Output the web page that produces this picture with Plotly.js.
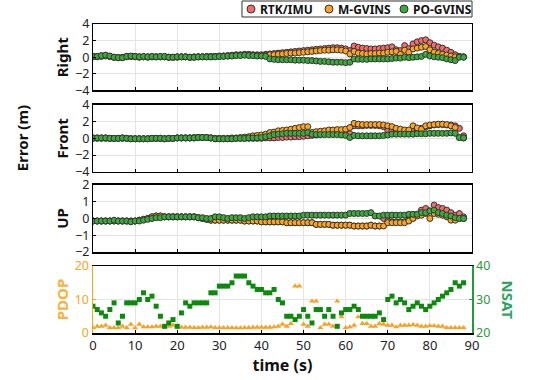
<!DOCTYPE html>
<html><head><meta charset="utf-8">
<script src="https://cdn.plot.ly/plotly-3.0.1.min.js"></script>
<style>html,body{margin:0;padding:0;background:#fff}#chart{width:538px;height:380px}</style>
</head><body><div id="chart"></div>
<script>
const time = [0,1,2,3,4,5,6,7,8,9,10,11,12,13,14,15,16,17,18,19,20,21,22,23,24,25,26,27,28,29,30,31,32,33,34,35,36,37,38,39,40,41,42,43,44,45,46,47,48,49,50,51,52,53,54,55,56,57,58,59,60,61,62,63,64,65,66,67,68,69,70,71,72,73,74,75,76,77,78,79,80,81,82,83,84,85,86,87,88];

// Right error (m)
const rtkRight = [0.1,0.1,0.15,0.2,0.1,0.0,-0.05,0.0,0.1,0.1, 0.1,0.05,0.05,0.05,0.05,0.05,0.05,0.05,0.0,0.0, 0.05,0.05,0.05,0.0,0.05,0.05,0.05,0.1,0.1,0.1, 0.15,0.15,0.2,0.25,0.3,0.3,0.35,0.35,0.3,0.3, 0.3,0.35,0.4,0.45,0.5,0.55,0.6,0.65,0.7,0.75, 0.8,0.85,0.9,0.95,1.0,1.05,1.1,1.15,1.15,1.1, 1.0,0.8,1.35,1.2,1.1,1.05,1.0,1.0,1.05,1.1, 1.15,1.25,0.9,0.8,1.4,1.05,1.6,1.85,2.0,2.1, 1.75,1.45,1.25,1.1,0.85,0.6,0.3,0.1,0.05];
const mgvRight = [0.05,0.05,0.1,0.15,0.1,0.0,-0.05,-0.05,0.05,0.1, 0.05,0.0,0.05,0.0,0.05,0.05,0.05,0.05,0.0,0.0, 0.0,0.05,0.05,0.0,0.0,0.05,0.05,0.05,0.05,0.1, 0.1,0.15,0.15,0.2,0.25,0.25,0.3,0.3,0.25,0.2, 0.2,0.25,0.3,0.3,0.35,0.4,0.45,0.5,0.5,0.55, 0.6,0.65,0.7,0.75,0.8,0.85,0.85,0.9,0.9,0.85, 0.75,0.4,0.7,0.5,0.45,0.4,0.45,0.45,0.5,0.5, 0.6,0.65,0.7,0.35,0.85,0.6,1.0,1.1,1.2,1.3, 0.9,0.6,0.45,0.35,0.25,0.15,0.05,0.1,0.05];
const pogRight = [0.1,0.1,0.2,0.25,0.15,0.0,-0.05,-0.05,0.1,0.15, 0.1,0.05,0.1,0.05,0.1,0.05,0.1,0.1,0.0,0.0, 0.05,0.05,0.05,0.0,0.0,0.05,0.05,0.05,0.05,0.05, 0.1,0.1,0.15,0.15,0.2,0.2,0.25,0.2,0.2,0.15, 0.15,0.1,-0.2,-0.25,-0.3,-0.3,-0.3,-0.3,-0.35,-0.35, -0.35,-0.4,-0.4,-0.45,-0.5,-0.5,-0.55,-0.6,-0.6,-0.6, -0.65,-0.6,-0.2,-0.25,-0.25,-0.25,-0.2,-0.2,-0.2,-0.2, -0.2,-0.15,-0.1,-0.1,0.0,-0.05,0.0,0.05,0.1,0.35, 0.15,0.05,0.0,-0.05,-0.2,-0.3,-0.4,0.0,0.0];

// Front error (m)
const rtkFront = [0.0,0.0,0.0,0.0,0.0,0.0,0.0,0.0,0.0,-0.05, -0.05,-0.05,-0.05,-0.05,0.0,0.0,0.0,-0.05,0.0,0.0, 0.05,0.05,0.05,0.05,0.05,0.1,0.1,0.1,0.05,-0.05, -0.05,-0.05,-0.05,-0.05,0.0,0.0,0.0,0.0,0.0,0.0, 0.0,0.05,0.05,0.05,0.1,0.1,0.15,0.15,0.2,0.2, 0.25,0.3,0.35,0.4,0.45,0.5,0.55,0.6,0.65,0.7, 0.75,0.55,1.5,1.5,1.5,1.55,1.55,1.55,1.5,1.4, 0.95,0.9,0.85,0.8,0.8,0.8,0.9,1.0,1.2,1.35, 1.5,1.6,1.65,1.65,1.6,1.6,1.5,1.2,0.3];
const mgvFront = [0.05,0.05,0.05,0.05,0.0,0.0,0.0,0.05,0.0,-0.05, -0.05,-0.05,-0.05,-0.05,0.0,0.0,0.0,-0.05,0.0,0.0, 0.05,0.05,0.05,0.05,0.1,0.1,0.1,0.1,0.05,0.0, 0.0,0.0,0.0,0.05,0.05,0.1,0.15,0.2,0.3,0.35, 0.4,0.5,0.7,0.75,0.9,0.95,1.0,1.1,1.2,1.3, 1.4,1.4,0.7,0.8,0.85,0.9,1.0,1.0,1.05,1.05, 1.1,1.3,1.8,1.7,1.65,1.65,1.65,1.65,1.65,1.6, 1.5,1.4,1.2,1.1,1.0,1.0,1.5,1.25,1.1,1.5, 1.6,1.65,1.7,1.7,1.65,1.5,1.3,0.1,0.05];
const pogFront = [0.05,0.05,0.05,0.05,0.0,0.0,0.0,0.05,0.0,-0.05, -0.05,-0.05,-0.05,-0.05,0.0,0.0,0.0,-0.05,0.0,0.0, 0.05,0.05,0.05,0.05,0.05,0.1,0.1,0.1,0.05,-0.05, -0.05,-0.05,-0.05,-0.05,0.0,0.0,0.0,0.05,0.05,0.05, 0.1,0.2,0.3,0.45,0.5,0.55,0.6,0.6,0.6,0.6, 0.6,0.7,0.5,0.45,0.45,0.45,0.45,0.45,0.45,0.4, 0.35,0.1,0.35,0.3,0.3,0.3,0.3,0.3,0.3,0.35, 0.4,0.5,0.5,0.5,0.5,0.5,0.5,0.55,0.55,0.55, 0.6,0.6,0.6,0.6,0.6,0.65,0.6,0.1,0.05];

// UP error (m)
const rtkUp = [-0.15,-0.15,-0.15,-0.15,-0.15,-0.15,-0.15,-0.15,-0.15,-0.15, -0.15,-0.1,-0.05,0.0,0.1,0.15,0.15,0.1,0.1,0.1, 0.1,0.1,0.1,0.1,0.1,0.05,0.0,-0.05,-0.1,-0.1, -0.1,-0.1,-0.1,-0.1,-0.1,-0.1,-0.15,-0.15,-0.15,-0.15, -0.2,-0.2,-0.2,-0.2,-0.2,-0.2,-0.25,-0.25,-0.25,-0.25, -0.25,-0.25,-0.25,-0.35,-0.35,-0.35,-0.35,-0.4,-0.4,-0.4, -0.4,-0.4,-0.45,-0.45,-0.45,-0.45,-0.4,-0.45,-0.45,0.0, -0.15,-0.2,-0.2,-0.2,-0.2,-0.1,0.05,0.25,0.5,0.6, 0.45,0.8,0.65,0.6,0.5,0.35,0.2,0.3,0.1];
const mgvUp = [-0.15,-0.15,-0.15,-0.15,-0.15,-0.15,-0.15,-0.15,-0.15,-0.15, -0.15,-0.1,-0.05,0.0,0.1,0.15,0.15,0.1,0.1,0.1, 0.1,0.1,0.1,0.1,0.1,0.05,0.0,-0.05,-0.1,-0.1, -0.1,-0.1,-0.1,-0.1,-0.1,-0.1,-0.15,-0.15,-0.15,-0.15, -0.2,-0.2,-0.2,-0.2,-0.2,-0.2,-0.25,-0.25,-0.25,-0.25, -0.25,-0.25,-0.25,-0.35,-0.35,-0.35,-0.35,-0.4,-0.4,-0.4, -0.4,-0.4,-0.45,-0.45,-0.45,-0.45,-0.4,-0.45,-0.45,-0.45, -0.25,-0.25,-0.25,-0.25,-0.25,-0.15,0.0,0.15,0.2,0.3, 0.0,0.3,0.25,0.2,0.1,-0.1,-0.1,0.0,0.0];
const pogUp = [-0.15,-0.15,-0.15,-0.15,-0.15,-0.1,-0.15,-0.15,-0.15,-0.2, -0.15,-0.15,-0.1,-0.05,0.0,0.05,0.05,0.1,0.1,0.1, 0.1,0.1,0.1,0.1,0.1,0.05,0.05,0.0,0.0,0.1, 0.1,0.05,0.0,0.05,0.05,0.05,0.0,0.05,0.1,0.1, 0.1,0.1,0.15,0.15,0.15,0.15,0.15,0.15,0.15,0.15, 0.2,0.2,0.2,0.2,0.2,0.2,0.2,0.2,0.2,0.2, 0.2,0.3,0.3,0.3,0.3,0.3,0.35,0.15,0.15,0.2, 0.2,0.2,0.2,0.2,0.2,0.25,0.25,0.25,0.35,0.35, 0.45,0.5,0.35,0.3,0.2,0.15,0.05,0.0,0.0];

// Satellite geometry
const pdop = [1.6,2,2,2.3,1.6,1.6,1.6,2,1.6,2.6, 1.5,2.6,1.8,1.8,1.8,2,2,1.8,2,2.3, 1.8,1.7,1.7,1.7,1.6,1.6,1.7,1.7,1.8,1.6, 1.6,1.6,1.6,1.6,1.5,1.5,1.6,1.6,1.7,1.7, 1.7,1.7,1.7,1.8,2,2.6,2,2.8,14,14, 2.6,2.0,9.5,9.5,1.6,2.6,2.6,2,9.5,4.8, 1.6,1.8,2.3,4.8,2.8,2.8,2,2,2.8,2.6, 2.3,2.3,1.8,2.3,2.3,2.3,2.5,2.3,2,2, 2.2,2.2,2,2,1.6,1.6,1.6,1.6,1.6];
const nsat = [28,27,26,25,27,29,23,25,29,29, 29,30,32,30,31,28,25,22,23,24, 22,26,29,28,29,29,29,29,32,32, 34,34,34,35,37,37,37,35,34,33, 33,32,32,33,30,29,25,25,24,25, 27,25,23,27,27,25,27,25,22,26, 27,27,28,27,25,25,25,25,26,24, 30,31,29,30,29,27,28,29,28,27, 28,29,30,31,32,33,35,34,35];

const seriesNames = ['RTK/IMU','M-GVINS','PO-GVINS'];
const seriesColors = ['#F36B6B','#FFA41C','#3DAA3D'];
const panels = [[rtkRight,mgvRight,pogRight],[rtkFront,mgvFront,pogFront],[rtkUp,mgvUp,pogUp]];

const traces = [];
panels.forEach((set, p) => {
  set.forEach((vals, s) => {
    traces.push({
      x: time, y: vals, type: 'scatter', mode: 'markers',
      name: seriesNames[s], showlegend: false,
      xaxis: p === 0 ? 'x' : 'x' + (p + 1), yaxis: p === 0 ? 'y' : 'y' + (p + 1),
      marker: {symbol: 'circle', size: 6, color: seriesColors[s], line: {width: 1, color: '#333'}}
    });
  });
});
traces.push({x: time, y: pdop, type: 'scatter', mode: 'markers', showlegend: false, name: 'PDOP',
  xaxis: 'x4', yaxis: 'y4', marker: {symbol: 'triangle-up', size: 5.5, color: '#FF9F1C'}});
traces.push({x: time, y: nsat, type: 'scatter', mode: 'markers', showlegend: false, name: 'NSAT',
  xaxis: 'x4', yaxis: 'y5', marker: {symbol: 'square', size: 5, color: '#0B8A0B'}});

const tf = {family: 'Noto Sans, Open Sans, sans-serif', size: 12.5, color: '#222'};
function xax(anchor, labels) {
  return {domain: [0, 1], range: [0, 90], anchor: anchor, matches: anchor === 'y' ? undefined : 'x',
    showgrid: true, gridcolor: '#e4e4e4', gridwidth: 1, zeroline: false,
    showline: true, linecolor: '#000', linewidth: 1.5, mirror: true,
    ticks: 'inside', ticklen: 3, tickcolor: '#000', dtick: 10, tick0: 0,
    showticklabels: labels, tickfont: Object.assign({}, tf, {size: 13})};
}
function yax(dom, range, dt, title) {
  return {domain: dom, range: range, dtick: dt, showgrid: true, gridcolor: '#e4e4e4', zeroline: false,
    showline: true, linecolor: '#000', linewidth: 1, mirror: true, ticks: 'inside', ticklen: 3,
    tickcolor: '#000', tickfont: tf,
    title: {text: '<b>' + title + '</b>', font: {family: 'Noto Sans, sans-serif', size: 15, color: '#111'}, standoff: 2}};
}

// Legend box (drawn in paper space, top right above the first panel)
const legX = [0.4169, 0.6227, 0.8206];
const legY = 1.0485;
const shapes = [{type: 'rect', xref: 'paper', yref: 'paper', x0: 0.3931, x1: 1.0, y0: 1.0227, y1: 1.0744,
  line: {color: '#333', width: 1}, fillcolor: '#fff', layer: 'above'}];
const annotations = [];
seriesNames.forEach((nm, i) => {
  shapes.push({type: 'circle', xref: 'paper', yref: 'paper', xsizemode: 'pixel', ysizemode: 'pixel',
    xanchor: legX[i], yanchor: legY, x0: -4, x1: 4, y0: -4, y1: 4,
    fillcolor: seriesColors[i], line: {color: '#333', width: 1}, layer: 'above'});
  annotations.push({text: '<b>' + nm + '</b>', xref: 'paper', yref: 'paper', x: legX[i] + 0.019, y: legY,
    xanchor: 'left', yanchor: 'middle', showarrow: false,
    font: {family: 'Noto Sans, sans-serif', size: 12, color: '#111'}});
});
annotations.push({text: '<b>Error (m)</b>', xref: 'paper', yref: 'paper', x: -0.187, y: 0.631, xanchor: 'center', yanchor: 'middle',
  showarrow: false, textangle: -90, font: {family: 'Noto Sans, sans-serif', size: 15, color: '#111'}});
annotations.push({text: '<b>NSAT</b>', xref: 'paper', yref: 'paper', x: 1.096, y: 0.107, xanchor: 'center', yanchor: 'middle',
  showarrow: false, textangle: 90, font: {family: 'Noto Sans, sans-serif', size: 15, color: '#2DA562'}});

const layout = {
  width: 538, height: 380,
  margin: {l: 93, r: 66, t: 24, b: 47, autoexpand: false},
  paper_bgcolor: '#fff', plot_bgcolor: '#fff',
  showlegend: false,
  xaxis: xax('y', false),
  xaxis2: xax('y2', false),
  xaxis3: xax('y3', false),
  xaxis4: Object.assign(xax('y4', true), {title: {text: '<b>time (s)</b>', font: {family: 'Noto Sans, sans-serif', size: 16, color: '#111'}, standoff: 4}}),
  yaxis: yax([0.7848, 1.0], [-4, 4], 2, 'Right'),
  yaxis2: yax([0.522, 0.7379], [-4, 4], 2, 'Front'),
  yaxis3: yax([0.2621, 0.479], [-2, 2], 1, 'UP'),
  yaxis4: {domain: [0, 0.2168], range: [0, 20], dtick: 10, showgrid: true, gridcolor: '#e4e4e4', zeroline: false,
    showline: true, linecolor: '#F5A623', linewidth: 1.5, mirror: false, ticks: 'inside', ticklen: 3,
    tickcolor: '#F5A623', tickfont: {family: 'Noto Sans, sans-serif', size: 12.5, color: '#F5A623'},
    title: {text: '<b>PDOP</b>', font: {family: 'Noto Sans, sans-serif', size: 15, color: '#F7B23F'}, standoff: 2}},
  yaxis5: {overlaying: 'y4', side: 'right', anchor: 'x4', range: [20, 40], dtick: 10, showgrid: false, zeroline: false,
    showline: true, linecolor: '#1E9E3A', linewidth: 1.5, ticks: 'inside', ticklen: 3, tickcolor: '#1E9E3A',
    tickfont: {family: 'Noto Sans, sans-serif', size: 12.5, color: '#2A9A3A'}},
  shapes: shapes,
  annotations: annotations
};

Plotly.newPlot('chart', traces, layout, {displayModeBar: false, staticPlot: true});
</script></body></html>
